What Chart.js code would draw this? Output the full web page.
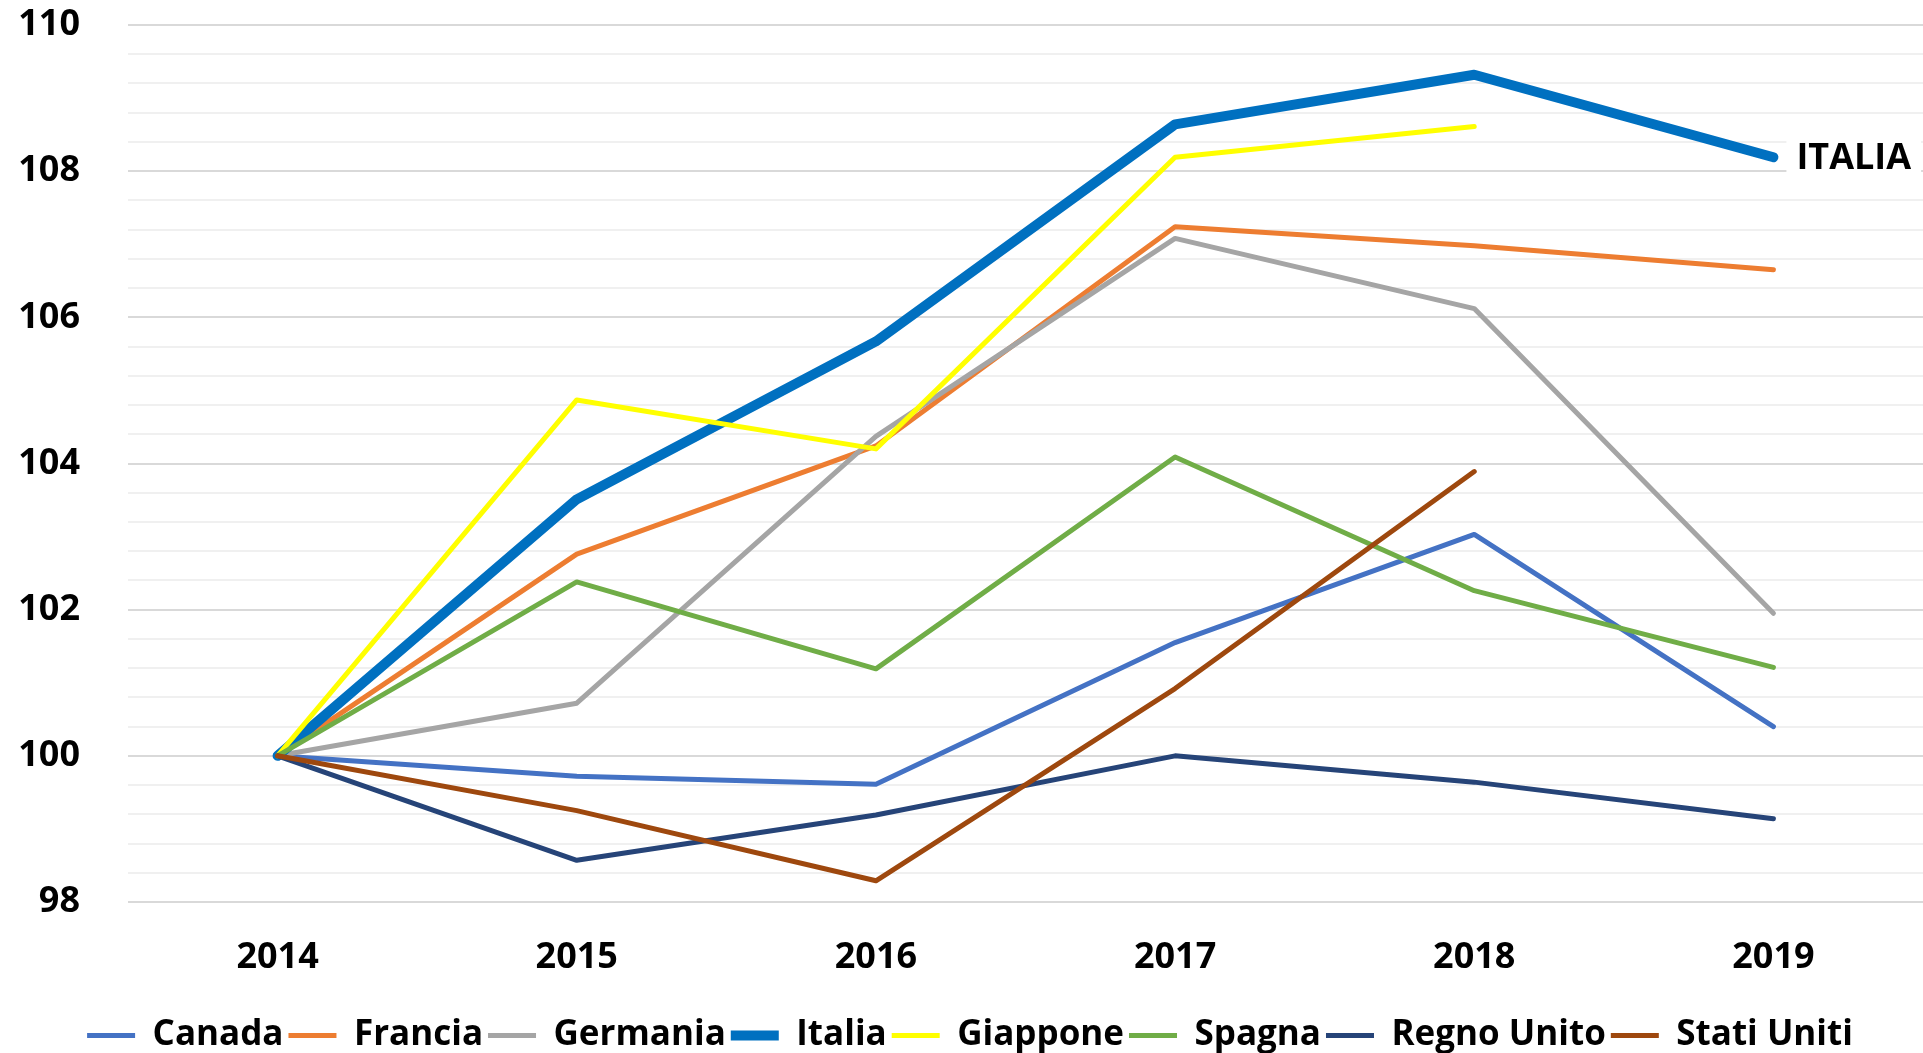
<!DOCTYPE html>
<html><head><meta charset="utf-8">
<script src="https://cdn.jsdelivr.net/npm/chart.js@4/dist/chart.umd.min.js"></script>
<style>html,body{margin:0;padding:0;background:#fff;} #wrap{width:1923px;height:1053px;position:relative;}</style>
</head><body><div id="wrap"><canvas id="c" width="1923" height="1053"></canvas></div>
<script>
const years = ['2014', '2015', '2016', '2017', '2018', '2019'];
const canada     = [100, 99.72, 99.61, 101.55, 103.03, 100.40];
const francia    = [100, 102.76, 104.24, 107.24, 106.98, 106.65];
const germania   = [100, 100.72, 104.37, 107.08, 106.12, 101.95];
const italia     = [100, 103.51, 105.67, 108.64, 109.32, 108.19];
const giappone   = [100, 104.87, 104.20, 108.19, 108.61, null];
const spagna     = [100, 102.38, 101.19, 104.09, 102.26, 101.21];
const regnoUnito = [100, 98.57, 99.19, 100.00, 99.64, 99.14];
const statiUniti = [100, 99.25, 98.29, 100.92, 103.89, null];
const seriesNames = ['Canada', 'Francia', 'Germania', 'Italia', 'Giappone', 'Spagna', 'Regno Unito', 'Stati Uniti'];
const seriesData = [canada, francia, germania, italia, giappone, spagna, regnoUnito, statiUniti];
const highlightLabel = 'ITALIA';
const yMin = 98, yMax = 110, yStep = 0.4, yLabelStep = 2;

const colors = ['#4472C4', '#ED7D31', '#A5A5A5', '#0070C0', '#FFFF00', '#70AD47', '#264478', '#9E480E'];
const widths = [5, 5, 5, 10, 5, 5, 5, 5];

Chart.defaults.font.family = "'Open Sans', 'Liberation Sans', sans-serif";
Chart.defaults.font.weight = 'bold';
Chart.defaults.font.size = 36;
Chart.defaults.color = '#000';

const isMajor = v => Math.abs(v / yLabelStep - Math.round(v / yLabelStep)) < 1e-6;

const italiaLabel = {
  id: 'italiaLabel',
  afterDatasetsDraw(chart) {
    const idx = seriesNames.indexOf('Italia');
    const meta = chart.getDatasetMeta(idx);
    const pt = meta.data[meta.data.length - 1];
    const ctx = chart.ctx;
    ctx.save();
    ctx.font = "bold 36px 'Open Sans', 'Liberation Sans', sans-serif";
    const w = ctx.measureText(highlightLabel).width;
    const tx = pt.x + 23;
    ctx.fillStyle = '#fff';
    ctx.fillRect(tx - 10, pt.y - 17, w + 20, 32);
    ctx.fillStyle = '#000';
    ctx.textBaseline = 'middle';
    ctx.textAlign = 'left';
    ctx.fillText(highlightLabel, tx, pt.y + 1);
    ctx.restore();
  }
};

new Chart(document.getElementById('c'), {
  type: 'line',
  data: {
    labels: years,
    datasets: seriesNames.map((n, i) => ({
      label: n,
      data: seriesData[i],
      borderColor: colors[i],
      backgroundColor: colors[i],
      borderWidth: widths[i],
      borderCapStyle: 'round',
      borderJoinStyle: 'round',
      pointRadius: 0,
      pointHoverRadius: 0,
      fill: false,
      tension: 0,
      spanGaps: false,
      order: seriesNames.length - 1 - i
    }))
  },
  options: {
    responsive: false,
    animation: false,
    layout: { padding: { left: 17, right: 0, top: 25, bottom: -10 } },
    plugins: {
      tooltip: { enabled: false },
      legend: {
        position: 'bottom',
        labels: {
          usePointStyle: true,
          pointStyle: 'line',
          pointStyleWidth: 48,
          padding: 5,
          font: { size: 35, weight: 'bold' },
          color: '#000',
          sort: (a, b) => a.datasetIndex - b.datasetIndex
        }
      }
    },
    scales: {
      x: {
        offset: true,
        grid: { display: false, drawTicks: false },
        border: { display: false },
        ticks: { padding: 37.5, font: { size: 36, weight: 'bold', lineHeight: 1.0 }, color: '#000' },
        afterFit: s => { s.paddingLeft = 0; s.paddingRight = 0; }
      },
      y: {
        min: yMin, max: yMax,
        border: { display: false },
        grid: {
          drawTicks: false,
          color: c => (c.tick && isMajor(c.tick.value)) ? '#d9d9d9' : '#f0f0f0',
          lineWidth: 2
        },
        ticks: {
          stepSize: yStep,
          autoSkip: false,
          padding: 48,
          font: { size: 36, weight: 'bold' },
          color: '#000',
          callback: v => isMajor(v) ? String(Math.round(v)) : ''
        },
        afterFit: s => { s.paddingTop = 0; s.paddingBottom = 0; s.width = 111; }
      }
    }
  },
  plugins: [italiaLabel]
});
</script></body></html>
